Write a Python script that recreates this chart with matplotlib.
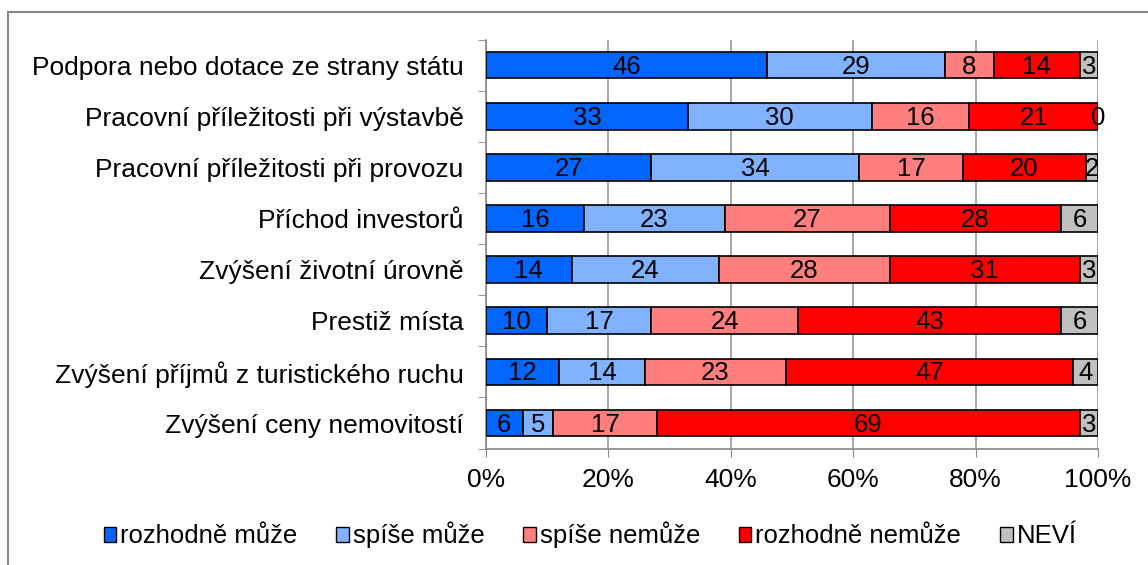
import numpy as np
import matplotlib.pyplot as plt
from matplotlib.patches import Rectangle

plt.rcParams['font.family'] = ['Liberation Sans', 'DejaVu Sans']

# categories from top to bottom
categories = [
    "Podpora nebo dotace ze strany státu",
    "Pracovní příležitosti při výstavbě",
    "Pracovní příležitosti při provozu",
    "Příchod investorů",
    "Zvýšení životní úrovně",
    "Prestiž místa",
    "Zvýšení příjmů z turistického ruchu",
    "Zvýšení ceny nemovitostí",
]
series_names = ["rozhodně může", "spíše může", "spíše nemůže", "rozhodně nemůže", "NEVÍ"]
rozhodne_muze = [46, 33, 27, 16, 14, 10, 12, 6]
spise_muze = [29, 30, 34, 23, 24, 17, 14, 5]
spise_nemuze = [8, 16, 17, 27, 28, 24, 23, 17]
rozhodne_nemuze = [14, 21, 20, 28, 31, 43, 47, 69]
nevi = [3, 0, 2, 6, 3, 6, 4, 3]
colors = ['#0066FF', '#80B2FF', '#FF7F7F', '#FF0000', '#C0C0C0']

fig = plt.figure(figsize=(11.48, 5.65), dpi=100)
ax = fig.add_axes([0.4233, 0.206, 0.5331, 0.724])

y = np.arange(len(categories))
left = np.zeros(len(categories))
for name, vals, col in zip(series_names, [rozhodne_muze, spise_muze, spise_nemuze, rozhodne_nemuze, nevi], colors):
    vals = np.array(vals, dtype=float)
    ax.barh(y, vals, left=left, height=0.52, color=col, edgecolor='black',
            linewidth=1.2, label=name, zorder=3)
    for yi, l, v in zip(y, left, vals):
        ax.text(l + v / 2, yi + 0.03, f"{int(v)}", ha='center', va='center',
                fontsize=18.5, color='black', zorder=4)
    left += vals

ax.set_xlim(0, 100)
ax.set_ylim(len(categories) - 0.5, -0.5)
ax.set_xticks(np.arange(0, 101, 20))
ax.set_xticklabels([f"{v}%" for v in range(0, 101, 20)], fontsize=19)
ax.set_yticks(y)
ax.set_yticklabels(categories, fontsize=19)
ax.set_yticks(np.arange(-0.5, len(categories), 1), minor=True)
ax.tick_params(axis='y', which='major', length=0, pad=16)
ax.tick_params(axis='y', which='minor', length=6, color='#888888', direction='out')
ax.tick_params(axis='x', length=6, color='#888888', direction='out', pad=8)
ax.grid(axis='x', color='#999999', linewidth=1.2, zorder=0)
for s in ['top', 'right']:
    ax.spines[s].set_visible(False)
for s in ['left', 'bottom']:
    ax.spines[s].set_color('#888888')
    ax.spines[s].set_linewidth(1.2)

leg = fig.legend(loc='center', bbox_to_anchor=(0.514, 0.053), ncol=5, frameon=False,
                 fontsize=18.5, handlelength=0.5, handleheight=0.5, handletextpad=0.15,
                 columnspacing=1.5)
for h in leg.legend_handles:
    h.set_linewidth(1.0)

# outer chart border
fig.patches.append(Rectangle((8 / 1148, -0.1), 1.2, 1 - 12 / 565 + 0.1,
                             transform=fig.transFigure, fill=False,
                             edgecolor='#888888', linewidth=1.5))

plt.savefig('out.png', dpi=100)
